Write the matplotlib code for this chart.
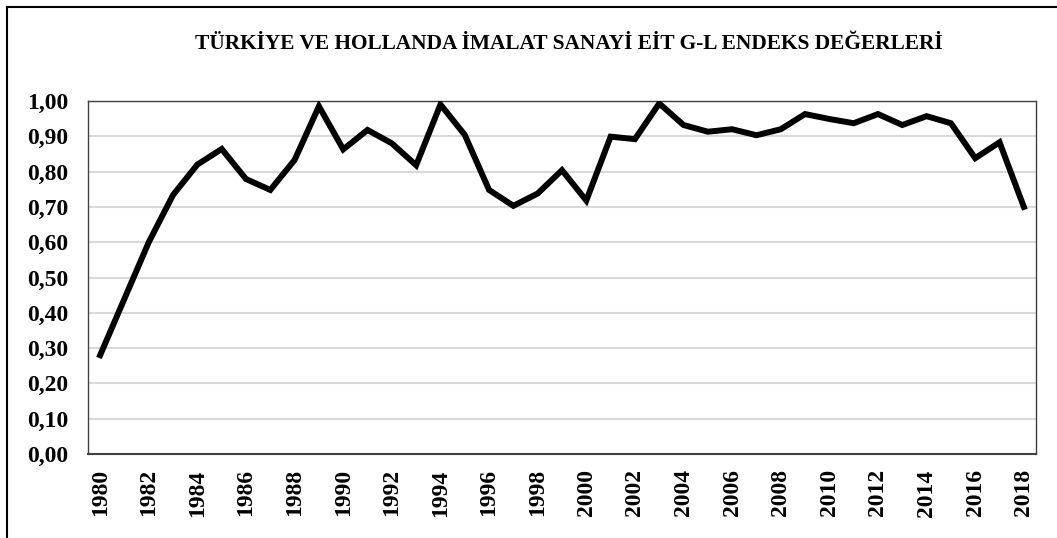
import matplotlib.pyplot as plt
from matplotlib.lines import Line2D

# Data
years = list(range(1980, 2019))
values = [0.28, 0.44, 0.60, 0.734, 0.82, 0.864, 0.779, 0.748, 0.833, 0.985,
          0.863, 0.918, 0.88, 0.818, 0.99, 0.904, 0.748, 0.703, 0.738, 0.804,
          0.718, 0.899, 0.892, 0.993, 0.932, 0.913, 0.92, 0.903, 0.92, 0.963,
          0.949, 0.937, 0.963, 0.932, 0.957, 0.937, 0.838, 0.883, 0.70]
y_ticks = [0.0, 0.1, 0.2, 0.3, 0.4, 0.5, 0.6, 0.7, 0.8, 0.9, 1.0]
title = 'TÜRKİYE VE HOLLANDA İMALAT SANAYİ EİT G-L ENDEKS DEĞERLERİ'

plt.rcParams['font.family'] = ['Liberation Serif', 'DejaVu Serif']
plt.rcParams['font.weight'] = 'bold'

W, H = 1057, 538
fig = plt.figure(figsize=(W / 100, H / 100), dpi=100)
ax = fig.add_axes([88 / W, (H - 454) / H, (1036 - 88) / W, (454 - 101) / H])

x = list(range(len(years)))
ax.plot(x, values, color='black', linewidth=4.3, solid_joinstyle='miter', zorder=3)

ax.set_xlim(-0.5, len(years) - 0.5)
ax.set_ylim(0, 1.0)
ax.set_yticks(y_ticks)
ax.set_yticklabels([f'{v:.2f}'.replace('.', ',') for v in y_ticks], fontsize=17, fontweight='bold')
ax.set_xticks(x[::2])
ax.set_xticklabels([str(y) for y in years[::2]], rotation=90, fontsize=17, fontweight='bold')
ax.tick_params(axis='y', length=0, pad=14)
ax.tick_params(axis='x', length=0, pad=11)

ax.grid(axis='y', color='#d9d9d9', linewidth=1.5, zorder=0)
ax.set_axisbelow(True)
for side in ['top', 'right', 'left']:
    ax.spines[side].set_color('#404040')
    ax.spines[side].set_linewidth(1.0)
ax.spines['bottom'].set_color('#404040')
ax.spines['bottom'].set_linewidth(1.5)

fig.text(569 / W, 1 - 44 / H, title, ha='center', va='center',
         fontsize=15.4, fontweight='bold')

# outer chart frame (left and top edges visible)
fig.add_artist(Line2D([6.5 / W, 6.5 / W], [0, 1 - 6.5 / H], color='black', linewidth=1.5,
                      transform=fig.transFigure))
fig.add_artist(Line2D([6.5 / W, 1], [1 - 6.5 / H, 1 - 6.5 / H], color='black', linewidth=1.5,
                      transform=fig.transFigure))

fig.savefig('out.png', dpi=100)
